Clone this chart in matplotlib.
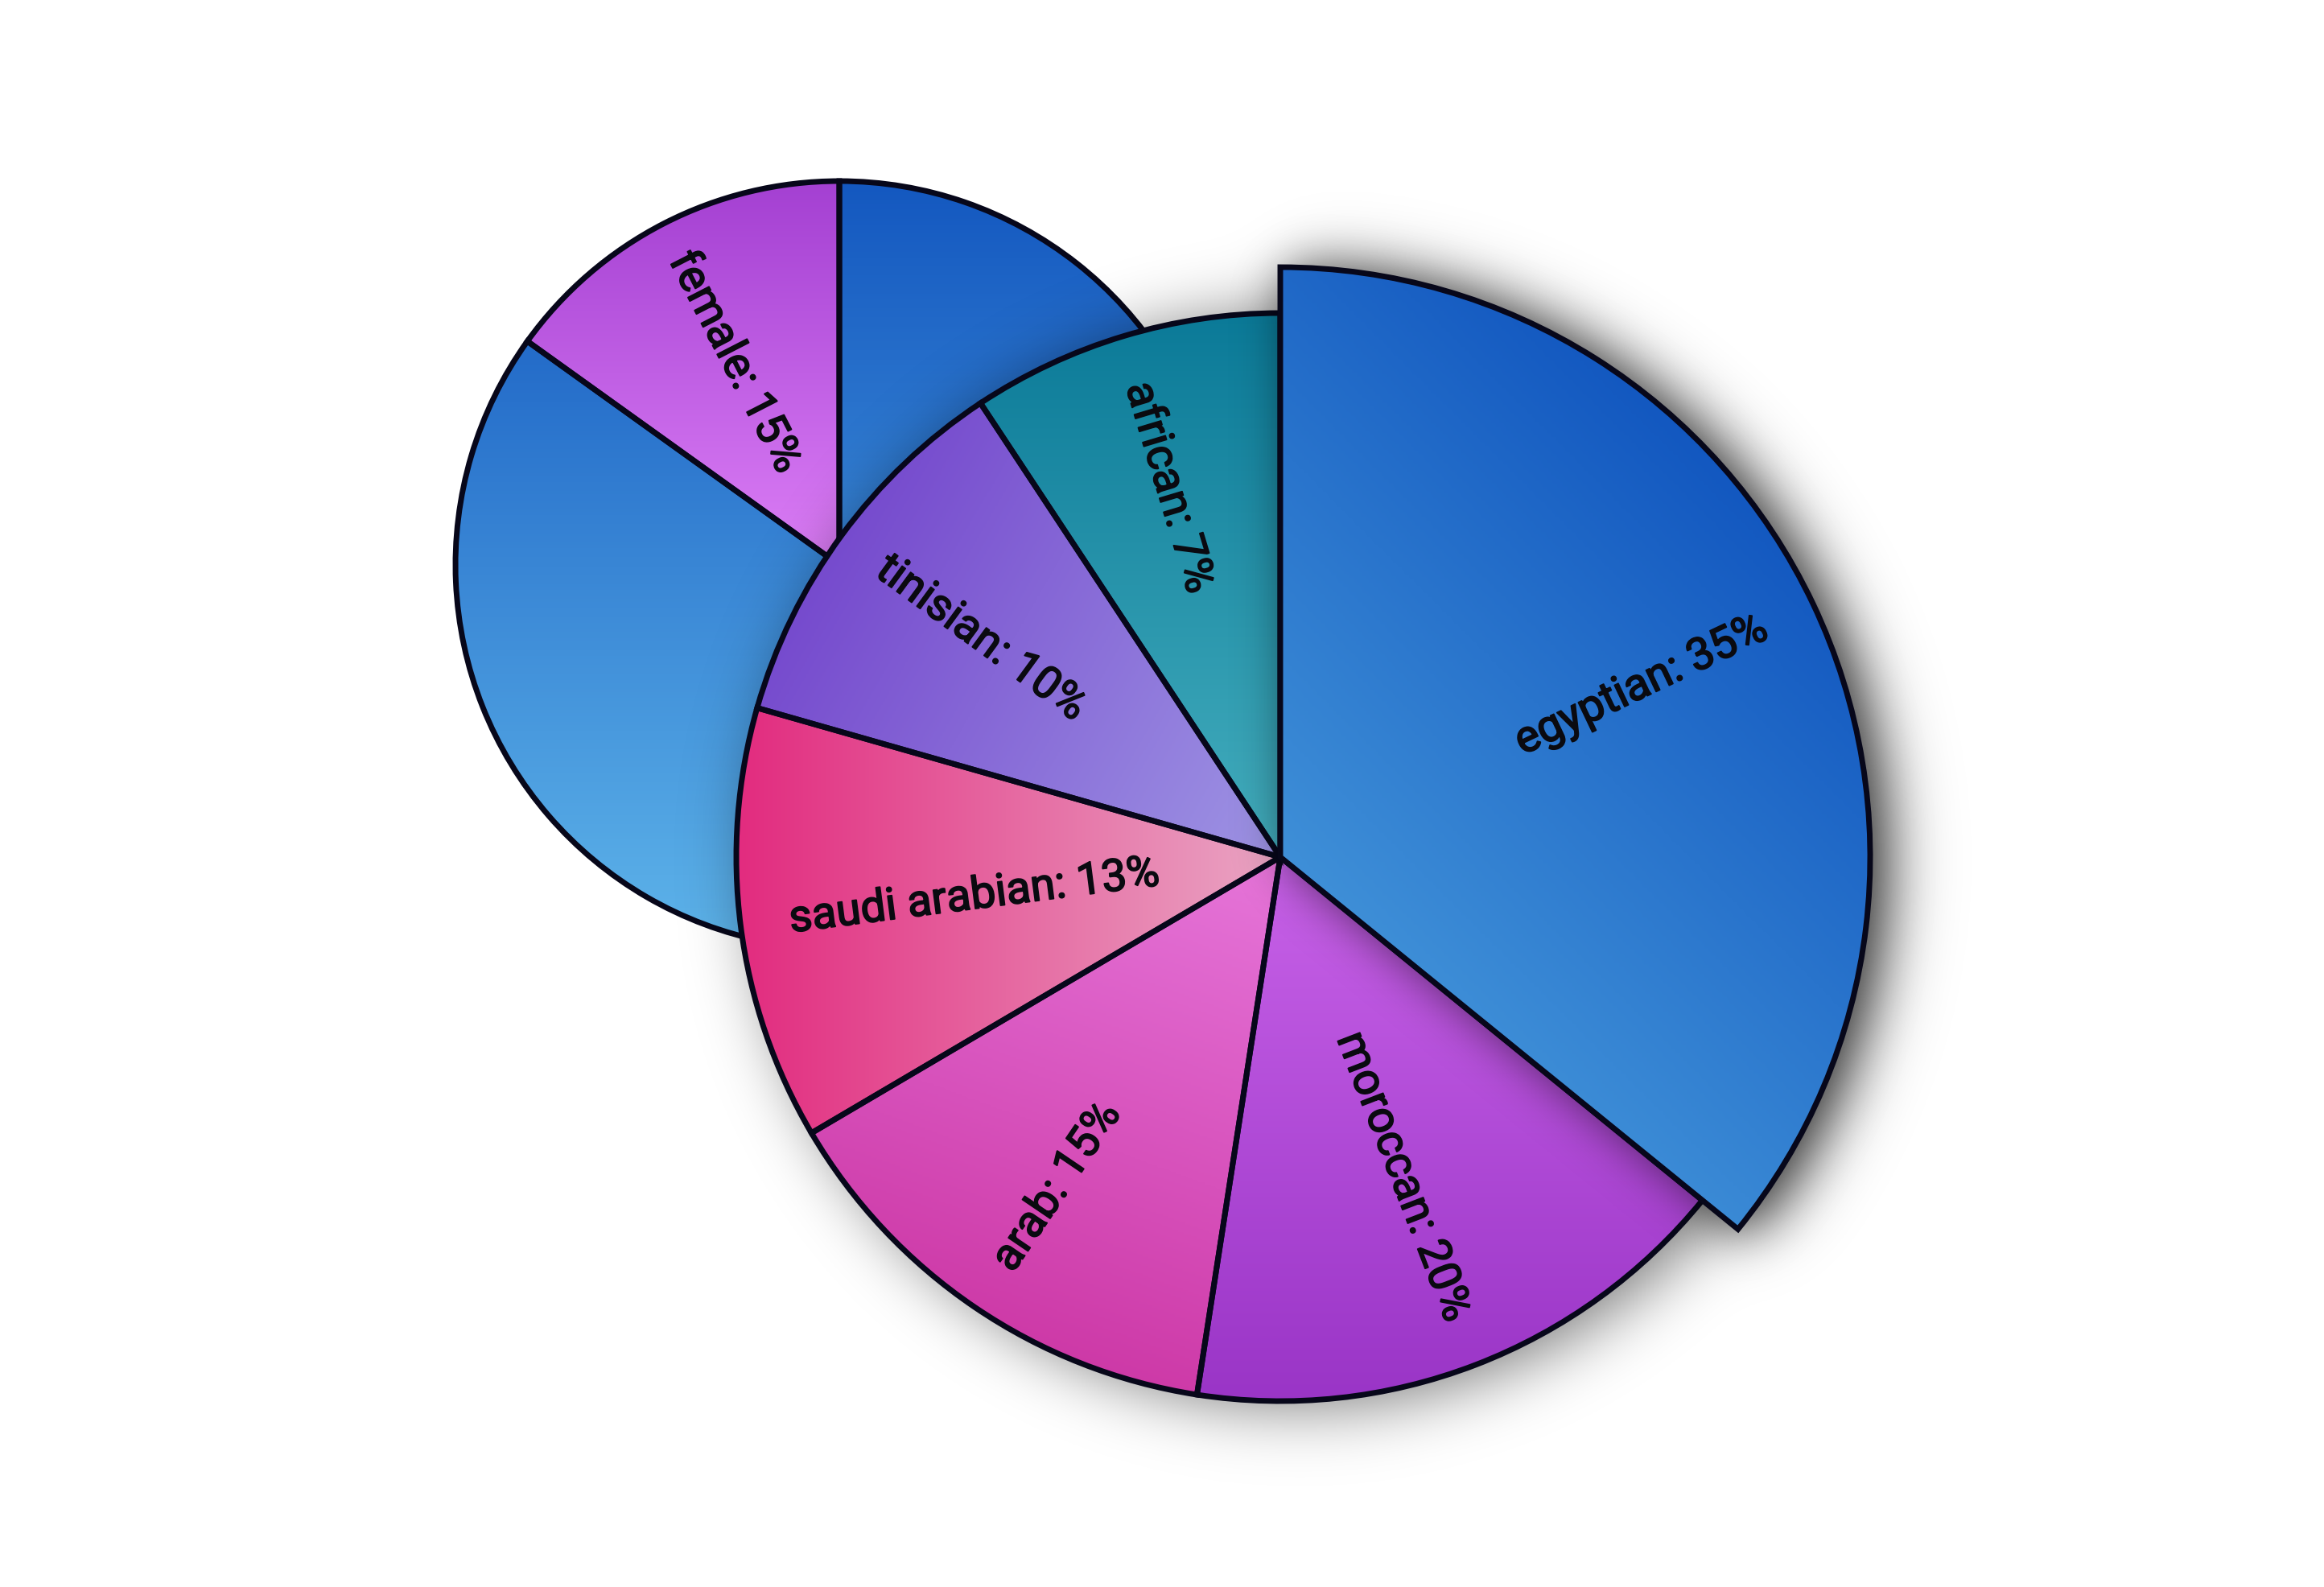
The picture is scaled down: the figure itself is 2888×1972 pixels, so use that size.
import matplotlib
matplotlib.use("Agg")
import matplotlib.pyplot as plt
import matplotlib.patheffects as pe
import numpy as np
from matplotlib.colors import LinearSegmentedColormap

# back pie (gender) - shares, label text as printed
back_labels = ['female', 'male']
back_shares = [15.1, 84.9]
back_pcts = [15, 85]
back_grads = [('#a440d2', '#dc7ef6', -90), ('#1458c0', '#5eb4ea', -90)]

# front pie (nationality)
front_labels = ['egyptian', 'moroccan', 'arab', 'saudi arabian', 'tinisian', 'african']
front_shares = [35.9, 16.6, 14.1, 12.9, 11.3, 9.3]
front_pcts = [35, 20, 15, 13, 10, 7]
front_grads = [
    ('#0040b6', '#52a8e2', 225),
    ('#c862e8', '#9934c6', -90),
    ('#e676da', '#c82c9c', -110),
    ('#e22a7e', '#eaa6c4', 0),
    ('#6c38c8', '#9e94e4', -30),
    ('#0b7a98', '#44aebe', -90),
]

W, H = 2888, 1972
EDGE = '#07071a'

fig = plt.figure(figsize=(W / 100, H / 100), dpi=100)
ax = fig.add_axes([0, 0, 1, 1])


def fill_gradient(wedge, c0, c1, direction, z):
    v = wedge.get_path().vertices
    x0, y0 = v.min(axis=0)
    x1, y1 = v.max(axis=0)
    gx, gy = np.meshgrid(np.linspace(0, 1, 256), np.linspace(0, 1, 256))
    d = np.deg2rad(direction)
    t = gx * (x1 - x0) * np.cos(d) + gy * (y1 - y0) * np.sin(d)
    t = (t - t.min()) / (t.max() - t.min())
    cmap = LinearSegmentedColormap.from_list('g', [c0, c1])
    im = ax.imshow(t, cmap=cmap, extent=(x0, x1, y0, y1), origin='lower',
                   interpolation='bilinear', zorder=z, aspect='auto')
    im.set_clip_path(wedge)


def drop_shadow(wedges, alpha, sigma, off, z):
    step = 4
    xs = np.arange(0, W, step) + step / 2
    ys = np.arange(0, H, step) + step / 2
    X, Y = np.meshgrid(xs, ys)
    pts = np.column_stack([X.ravel(), Y.ravel()])
    mask = np.zeros(len(pts), bool)
    for w in wedges:
        mask |= w.get_path().contains_points(pts)
    mask = mask.reshape(X.shape).astype(float)
    s = sigma / step
    ky = np.fft.fftfreq(mask.shape[0])
    kx = np.fft.fftfreq(mask.shape[1])
    g = np.exp(-2 * (np.pi * s) ** 2 * (ky[:, None] ** 2 + kx[None, :] ** 2))
    blur = np.real(np.fft.ifft2(np.fft.fft2(mask) * g))
    rgba = np.zeros(mask.shape + (4,))
    rgba[..., 3] = np.clip(blur, 0, 1) * alpha
    ax.imshow(rgba, extent=(off[0], W + off[0], off[1], H + off[1]), origin='lower',
              interpolation='bilinear', zorder=z, aspect='auto')


def add_labels(wedges, names, pcts, z):
    for w, name, p in zip(wedges, names, pcts):
        mid = (w.theta1 + w.theta2) / 2
        a = np.deg2rad(mid)
        r = 0.91 * w.r
        x = w.center[0] + r * np.cos(a)
        y = w.center[1] + r * np.sin(a)
        m = (mid + 180) % 360 - 180
        if -90 <= m <= 90:
            rot, ha = m, 'right'
        else:
            rot, ha = m - 180 if m > 0 else m + 180, 'left'
        ax.text(x, y, f'{name}: {p}%', rotation=rot, rotation_mode='anchor',
                ha=ha, va='center', fontsize=40, family='Roboto',
                color='#0a0a10', zorder=z,
                path_effects=[pe.withStroke(linewidth=1.3, foreground='#0a0a10')])


wp = dict(linewidth=5, edgecolor=EDGE, joinstyle='miter')

back_wedges, _ = ax.pie(back_shares, startangle=90, counterclock=True,
                        center=(1043, 1270), radius=477,
                        colors=['none'] * len(back_shares), wedgeprops=wp)
for w, (c0, c1, d) in zip(back_wedges, back_grads):
    w.set_zorder(2)
    fill_gradient(w, c0, c1, d, 1)
add_labels(back_wedges, back_labels, back_pcts, 2.5)

front_wedges, _ = ax.pie(front_shares, startangle=90, counterclock=False,
                         center=(1591, 907), radius=676,
                         colors=['none'] * len(front_shares), wedgeprops=wp)
front_wedges[0].set_radius(733)

drop_shadow(front_wedges, 0.55, 42, (24, -4), 3)
for w, (c0, c1, d) in zip(front_wedges[1:], front_grads[1:]):
    w.set_zorder(5)
    fill_gradient(w, c0, c1, d, 4)
drop_shadow(front_wedges[:1], 0.6, 30, (8, -6), 6)
front_wedges[0].set_zorder(8)
fill_gradient(front_wedges[0], *front_grads[0], 7)
add_labels(front_wedges, front_labels, front_pcts, 9)

ax.set_xlim(0, W)
ax.set_ylim(0, H)
ax.set_aspect('equal')
ax.axis('off')
fig.savefig('out.png', dpi=100, facecolor='white')
